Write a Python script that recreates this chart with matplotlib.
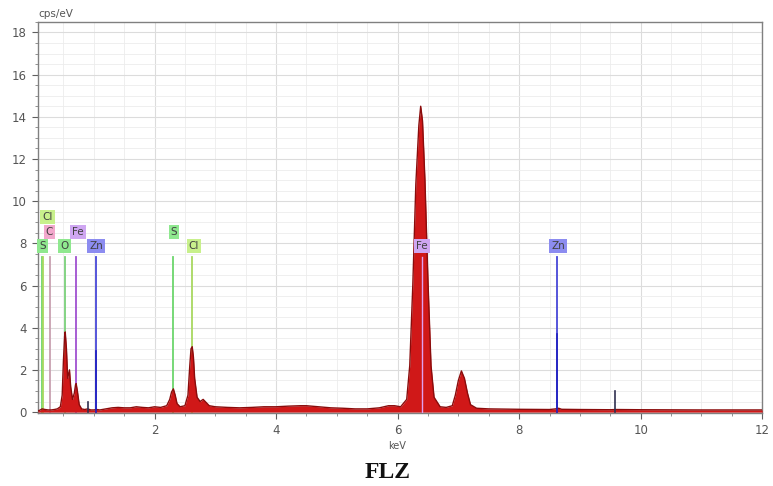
import matplotlib
matplotlib.use("Agg")
import matplotlib.pyplot as plt
from matplotlib.ticker import MultipleLocator

# ---- data ----
energy = [0.08, 0.12, 0.15, 0.20, 0.25, 0.30, 0.35, 0.40, 0.45, 0.48, 0.50, 0.52, 0.53, 0.55,
          0.57, 0.60, 0.62, 0.65, 0.68, 0.70, 0.71, 0.73, 0.76, 0.80, 0.85, 0.90, 0.95, 1.00,
          1.05, 1.10, 1.20, 1.30, 1.40, 1.50, 1.60, 1.70, 1.80, 1.90, 2.00, 2.10, 2.20, 2.25,
          2.28, 2.31, 2.34, 2.37, 2.42, 2.50, 2.55, 2.58, 2.60, 2.62, 2.64, 2.66, 2.70, 2.75,
          2.80, 2.85, 2.90, 3.00, 3.20, 3.40, 3.60, 3.80, 4.00, 4.20, 4.40, 4.50, 4.70, 4.90,
          5.10, 5.30, 5.50, 5.70, 5.85, 5.95, 6.05, 6.15, 6.20, 6.25, 6.30, 6.35, 6.38, 6.41,
          6.45, 6.50, 6.55, 6.60, 6.70, 6.80, 6.90, 6.95, 7.00, 7.05, 7.10, 7.15, 7.20, 7.30,
          7.50, 8.00, 8.50, 8.60, 8.65, 8.70, 9.00, 9.50, 9.60, 10.00, 11.00, 12.00]
counts = [0.05, 0.10, 0.15, 0.12, 0.10, 0.10, 0.12, 0.15, 0.25, 0.80, 2.40, 3.60, 3.80, 3.00,
          1.60, 2.00, 1.20, 0.60, 0.90, 1.30, 1.35, 1.00, 0.35, 0.15, 0.12, 0.15, 0.10, 0.10,
          0.12, 0.10, 0.15, 0.20, 0.22, 0.20, 0.20, 0.25, 0.22, 0.20, 0.25, 0.22, 0.30, 0.60,
          0.95, 1.10, 0.80, 0.40, 0.25, 0.30, 0.80, 2.20, 3.00, 3.10, 2.60, 1.60, 0.70, 0.50,
          0.60, 0.45, 0.30, 0.25, 0.22, 0.20, 0.22, 0.25, 0.25, 0.28, 0.30, 0.30, 0.25, 0.20,
          0.18, 0.15, 0.15, 0.20, 0.30, 0.30, 0.25, 0.60, 2.20, 6.00, 10.80, 13.60, 14.50, 13.80,
          11.00, 6.20, 2.20, 0.70, 0.25, 0.22, 0.30, 0.80, 1.50, 1.95, 1.60, 0.90, 0.35, 0.18,
          0.15, 0.13, 0.12, 0.15, 0.18, 0.13, 0.12, 0.11, 0.12, 0.11, 0.10, 0.10]

# element markers: label, line energy, label x, label y, line top, line colour, box colour
marker_labels = ["S", "Cl", "C", "O", "Fe", "Zn", "S", "Cl", "Fe", "Zn"]
marker_energy = [0.15, 0.16, 0.28, 0.52, 0.71, 1.03, 2.31, 2.62, 6.40, 8.63]
label_x = [0.16, 0.24, 0.27, 0.52, 0.74, 1.04, 2.32, 2.65, 6.40, 8.64]
label_y = [7.87, 9.25, 8.55, 7.87, 8.55, 7.87, 8.55, 7.87, 7.87, 7.87]
line_top = [7.35, 7.35, 7.35, 7.35, 7.35, 7.35, 7.35, 7.35, 7.35, 7.35]
line_colors = ["#6cd66c", "#a8d860", "#c8a0b0", "#7ad07a", "#a050d0", "#4848d8",
               "#6cd66c", "#a8d860", "#d090e0", "#4848d8"]
box_colors = ["#8fe88f", "#c8f08c", "#f2a8cc", "#8fe88f", "#cfa6f2", "#8c8cf0",
              "#8fe88f", "#c8f08c", "#cfa6f2", "#8c8cf0"]

# darker intensity bars (line heights)
bar_energy = [1.03, 8.63, 9.57, 0.90]
bar_height = [2.9, 3.7, 1.0, 0.5]
bar_colors = ["#2020c0", "#2020c0", "#303050", "#303050"]

# ---- figure ----
fig = plt.figure(figsize=(7.73, 4.86), dpi=100)
ax = fig.add_axes([0.049, 0.150, 0.937, 0.805])

ax.set_xlim(0.08, 12)
ax.set_ylim(-0.05, 18.5)
ax.xaxis.set_major_locator(MultipleLocator(2))
ax.xaxis.set_minor_locator(MultipleLocator(0.5))
ax.yaxis.set_major_locator(MultipleLocator(2))
ax.yaxis.set_minor_locator(MultipleLocator(0.5))
ax.grid(which="major", color="#dcdcdc", linewidth=0.8)
ax.grid(which="minor", color="#ececec", linewidth=0.6)
ax.set_axisbelow(True)

# marker lines (behind spectrum)
for e, top, c in zip(marker_energy, line_top, line_colors):
    ax.plot([e, e], [0, top], color=c, linewidth=1.3, zorder=2)

ax.fill_between(energy, 0, counts, color="#d01818", linewidth=0, zorder=3)
ax.plot(energy, counts, color="#8a0c0c", linewidth=1.0, zorder=4)

for e, h, c in zip(bar_energy, bar_height, bar_colors):
    ax.plot([e, e], [0, h], color=c, linewidth=1.2, zorder=5)

# Fe K marker visible through the peak
ax.plot([6.40, 6.40], [0, 7.35], color="#e0a0f0", linewidth=1.0, zorder=5)

for lab, x, y, bc in zip(marker_labels, label_x, label_y, box_colors):
    ax.text(x, y, lab, fontsize=7.5, color="#404040", ha="center", va="center", zorder=7,
            bbox=dict(boxstyle="square,pad=0.2", facecolor=bc, edgecolor="none"))

ax.tick_params(which="major", length=4, color="#606060", labelsize=8.5,
               labelcolor="#555555", direction="out", pad=4)
ax.tick_params(which="minor", length=2, color="#808080")
ax.set_yticks([0, 2, 4, 6, 8, 10, 12, 14, 16, 18])
ax.set_xticks([2, 4, 6, 8, 10, 12])
for s in ax.spines.values():
    s.set_color("#808080")
    s.set_linewidth(1.0)

ax.text(0.0, 1.008, "cps/eV", transform=ax.transAxes, fontsize=7.5, color="#555555",
        ha="left", va="bottom")
fig.text(397 / 773, 1 - 446 / 486, "keV", fontsize=7, color="#555555",
         ha="center", va="center")
fig.text(388 / 773, 1 - 472 / 486, "FLZ", fontsize=17, fontweight="bold",
         family="Liberation Serif", color="#111111", ha="center", va="center")

fig.savefig("out.png", dpi=100)
